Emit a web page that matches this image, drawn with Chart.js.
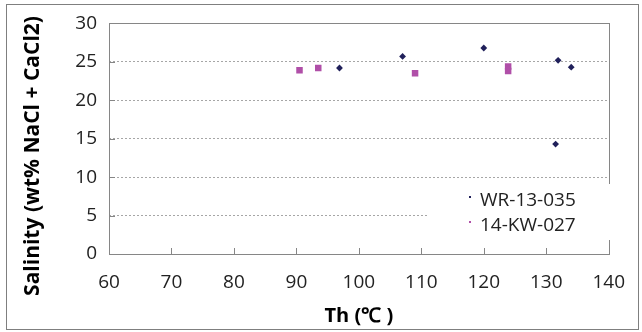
<!DOCTYPE html>
<html>
<head>
<meta charset="utf-8">
<script src="https://cdn.jsdelivr.net/npm/chart.js@4.4.1/dist/chart.umd.min.js"></script>
<style>
  html, body { margin: 0; padding: 0; background: #fff; }
  #wrap { width: 642px; height: 332px; position: relative; }
</style>
</head>
<body>
<div id="wrap"><canvas id="chart" width="642" height="332"></canvas></div>
<script>
// data
const wrTh = [96.9, 107.0, 120.0, 131.9, 134.0, 131.5];
const wrSal = [24.2, 25.7, 26.8, 25.2, 24.3, 14.3];
const kwTh = [90.5, 93.5, 109.0, 123.9, 123.9];
const kwSal = [23.9, 24.2, 23.5, 24.4, 23.8];
const xTicks = [60, 70, 80, 90, 100, 110, 120, 130, 140];
const yTicks = [0, 5, 10, 15, 20, 25, 30];

const navy = '#20205a';
const pink = '#b04fa8';
const font = "'Open Sans', sans-serif";

const toPoints = (xs, ys) => xs.map((x, i) => ({ x: x, y: ys[i] }));

// frame, inside ticks, y title and legend box
const extras = {
  id: 'extras',
  beforeDraw(chart) {
    const ctx = chart.ctx;
    ctx.save();
    ctx.strokeStyle = '#7f7f7f';
    ctx.lineWidth = 1;
    ctx.strokeRect(6.5, 4.5, 632, 325);
    ctx.restore();
  },
  afterDatasetsDraw(chart) {
    const ctx = chart.ctx;
    const a = chart.chartArea;
    const xs = chart.scales.x, ys = chart.scales.y;
    ctx.save();
    ctx.strokeStyle = '#868686';
    ctx.lineWidth = 1;
    ctx.strokeRect(Math.round(a.left) + 0.5, Math.round(a.top) + 0.5,
      Math.round(a.right - a.left), Math.round(a.bottom - a.top));
    ctx.beginPath();
    xTicks.forEach(v => {
      const px = Math.round(xs.getPixelForValue(v)) + 0.5;
      ctx.moveTo(px, a.bottom);
      ctx.lineTo(px, a.bottom - 6);
    });
    yTicks.forEach(v => {
      const py = Math.round(ys.getPixelForValue(v)) + 0.5;
      ctx.moveTo(a.left, py);
      ctx.lineTo(a.left + 6, py);
    });
    ctx.stroke();

    // y title
    ctx.fillStyle = '#000';
    ctx.font = "bold 21px " + font;
    ctx.textAlign = 'center';
    ctx.textBaseline = 'middle';
    ctx.translate(33, 156);
    ctx.rotate(-Math.PI / 2);
    ctx.fillText('Salinity (wt% NaCl + CaCl2)', 0, 0);
    ctx.restore();

    // legend
    ctx.save();
    ctx.fillStyle = '#fff';
    ctx.fillRect(428, 184, 190, 56);
    ctx.font = "19px " + font;
    ctx.textAlign = 'left';
    ctx.textBaseline = 'middle';
    chart.data.datasets.forEach((ds, i) => {
      const y = 201 + i * 25;
      ctx.fillStyle = ds.backgroundColor;
      ctx.fillRect(469, y - 5, 2, 2);
      ctx.fillStyle = '#222';
      ctx.fillText(ds.label, 480, y);
    });
    ctx.restore();
  }
};

new Chart(document.getElementById('chart'), {
  type: 'scatter',
  data: {
    datasets: [
      {
        label: 'WR-13-035',
        data: toPoints(wrTh, wrSal),
        backgroundColor: navy,
        borderColor: navy,
        pointStyle: 'rectRot',
        pointRadius: 3.4,
        borderWidth: 0
      },
      {
        label: '14-KW-027',
        data: toPoints(kwTh, kwSal),
        backgroundColor: pink,
        borderColor: pink,
        pointStyle: 'rect',
        pointRadius: 4.6,
        borderWidth: 0
      }
    ]
  },
  options: {
    responsive: false,
    animation: false,
    layout: { padding: { top: 23, right: 20, left: 0, bottom: 0 } },
    plugins: { legend: { display: false }, tooltip: { enabled: false } },
    scales: {
      x: {
        min: 60, max: 140,
        afterBuildTicks: s => { s.ticks = xTicks.map(v => ({ value: v })); },
        afterFit: s => { s.height = 78; },
        grid: { display: false, drawTicks: false },
        border: { display: false },
        ticks: { color: '#222', padding: 17, font: { family: font, size: 19 } },
        title: {
          display: true, text: 'Th (℃ )', color: '#000',
          font: { family: font, size: 20, weight: 'bold' },
          padding: { top: 4, bottom: 4 }
        }
      },
      y: {
        min: 0, max: 30,
        afterBuildTicks: s => { s.ticks = yTicks.map(v => ({ value: v })); },
        afterFit: s => { s.width = 109; },
        grid: { color: '#a6a6a6', drawTicks: false },
        border: { display: false, dash: [2, 2] },
        ticks: { color: '#222', padding: 12, font: { family: font, size: 19 } }
      }
    }
  },
  plugins: [extras]
});
</script>
</body>
</html>
